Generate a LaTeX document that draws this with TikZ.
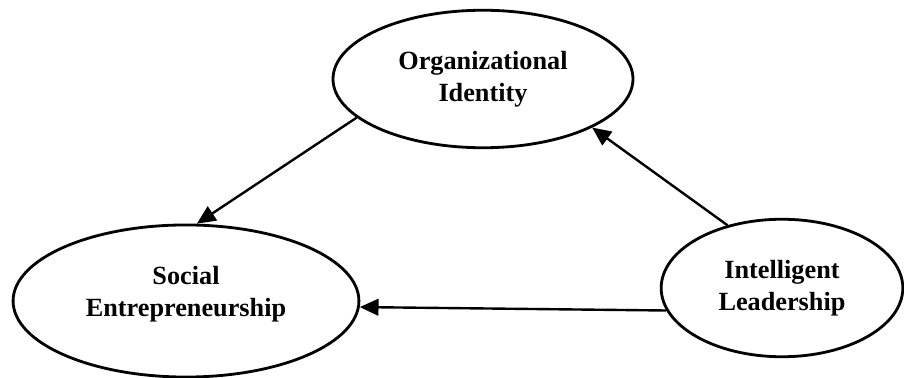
\documentclass[tikz,border=0pt]{standalone}
\usepackage{fontspec}
\setmainfont{Liberation Serif}
\usetikzlibrary{positioning}
\usetikzlibrary{shapes.geometric}
\usetikzlibrary{arrows.meta}

\begin{document}
\begin{tikzpicture}[x=0.48pt, y=-0.48pt,
  var/.style={draw, ellipse, line width=1.35pt, inner sep=0pt, align=center,
    font=\fontsize{12.6}{15.5}\selectfont\bfseries},
  link/.style={-{Triangle[length=9pt, width=8pt]}, line width=1.15pt}]

\useasboundingbox (0,0) rectangle (904,378);

% variables
\node[var, minimum width=144pt, minimum height=66pt] (oi) at (483,79) {Organizational\\Identity};
\node[var, minimum width=166pt, minimum height=73pt] (se) at (186,301) {Social\\Entrepreneurship\\[-6pt]};
\node[var, minimum width=116pt, minimum height=66pt] (il) at (782,288) {Intelligent\\Leadership};

% arrows
\draw[link] (oi.197) -- (se.82);
\draw[link] (il.131) -- (oi.336);
\draw[link] (il.191) -- (se.358);

\end{tikzpicture}
\end{document}
